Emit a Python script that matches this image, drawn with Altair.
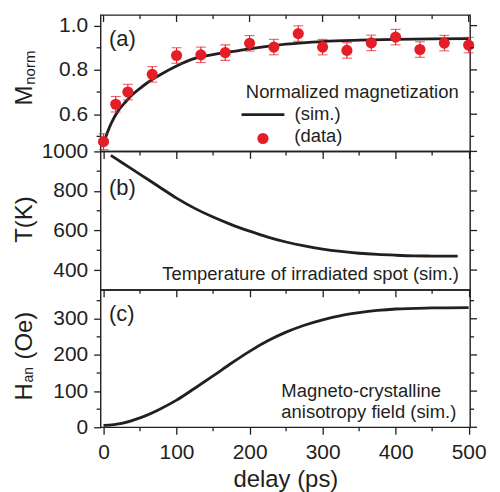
import altair as alt
import pandas as pd

# ---------------- data ----------------
# (a) measured normalized magnetization
delay_pts = [0, 16.7, 33.3, 66.7, 100, 133.3, 166.7, 200, 233.3, 266.7,
             300, 333.3, 366.7, 400, 433.3, 466.7, 500]
m_pts = [0.476, 0.645, 0.700, 0.780, 0.865, 0.868, 0.878, 0.920, 0.903, 0.964,
         0.903, 0.888, 0.922, 0.948, 0.892, 0.921, 0.912]
m_err = [0.036, 0.035, 0.035, 0.035, 0.035, 0.035, 0.035, 0.035, 0.035, 0.035,
         0.035, 0.035, 0.035, 0.035, 0.035, 0.035, 0.035]

# (a) simulated normalized magnetization
m_sim_delay = [0, 10, 20, 30, 40, 50, 60, 80, 100, 125, 150, 175, 200, 250,
               300, 350, 400, 450, 500]
m_sim = [0.47, 0.555, 0.615, 0.655, 0.69, 0.717, 0.742, 0.783, 0.818, 0.852,
         0.869, 0.882, 0.895, 0.916, 0.928, 0.934, 0.938, 0.940, 0.941]

# (b) simulated temperature of irradiated spot
t_sim_delay = [10, 25, 50, 75, 100, 125, 150, 175, 200, 225, 250, 275, 300,
               325, 350, 375, 400, 425, 450, 485]
t_sim = [980, 944, 884, 824, 764, 712, 668, 630, 597, 567, 542, 522, 506,
         494, 485, 479, 475, 472, 471, 470]

# (c) simulated magneto-crystalline anisotropy field
h_sim_delay = [0, 25, 50, 75, 100, 125, 150, 175, 200, 225, 250, 275, 300,
               325, 350, 375, 400, 450, 500]
h_sim = [5, 11, 26, 48, 75, 108, 142, 177, 210, 239, 263, 282, 297, 309,
         317, 323, 327, 330, 331]

# tick values
x_major = [0, 100, 200, 300, 400, 500]
x_minor = [50, 150, 250, 350, 450]
m_major = [0.6, 0.8, 1.0]
m_minor = [0.5, 0.7, 0.9]
t_major = [400, 600, 800, 1000]
t_minor = [500, 700, 900]
h_major = [0, 100, 200, 300]
h_minor = [50, 150, 250, 350]

# ---------------- style ----------------
INK = "#231f20"
RED = "#e41e26"
FONT = "Liberation Sans"
W = 371
HA, HB, HC = 137, 139, 138
XS = alt.Scale(domain=[-4, 502], nice=False, zero=False)
YA = alt.Scale(domain=[0.432, 1.048], nice=False, zero=False)
YB = alt.Scale(domain=[300, 1000], nice=False, zero=False)
YC = alt.Scale(domain=[0, 380], nice=False, zero=False)
TW = 1.3
LFS = 21


def xax(show):
    kw = dict(values=x_major, tickSize=7, tickWidth=TW, tickColor=INK,
              domain=False, grid=False, labelFlush=False)
    if show:
        return alt.Axis(labels=True, title="delay (ps)", labelFontSize=LFS,
                        labelPadding=7, titleFontSize=24, titlePadding=5,
                        titleFontWeight="normal", labelColor=INK,
                        titleColor=INK, format="d", labelFont=FONT,
                        titleFont=FONT, **kw)
    return alt.Axis(labels=False, title=None, **kw)


def yax(vals, fmt):
    return alt.Axis(values=vals, format=fmt, tickSize=7, tickWidth=TW,
                    tickColor=INK, domain=False, grid=False, title=None,
                    labelFontSize=LFS, labelPadding=6, labelColor=INK,
                    labelOverlap=False, labelFont=FONT)


def rules(xa, ya, ys, H, y_major, y_minor, top_ticks=False):
    out = []
    ymin = pd.DataFrame({"v": y_minor})
    ymaj = pd.DataFrame({"v": y_major})
    xmin = pd.DataFrame({"v": x_minor})
    xmaj = pd.DataFrame({"v": x_major})
    base = dict(color=INK, strokeWidth=TW)
    yenc = alt.Y("v:Q", scale=ys, axis=ya)
    xenc = alt.X("v:Q", scale=XS, axis=xa)
    out.append(alt.Chart(ymin).mark_rule(**base).encode(
        y=yenc, x=alt.value(-4), x2=alt.value(0)))
    out.append(alt.Chart(ymaj).mark_rule(**base).encode(
        y=yenc, x=alt.value(W), x2=alt.value(W + 7)))
    out.append(alt.Chart(ymin).mark_rule(**base).encode(
        y=yenc, x=alt.value(W), x2=alt.value(W + 4)))
    out.append(alt.Chart(xmin).mark_rule(**base).encode(
        x=xenc, y=alt.value(H), y2=alt.value(H + 4)))
    if top_ticks:
        out.append(alt.Chart(xmaj).mark_rule(**base).encode(
            x=xenc, y=alt.value(0), y2=alt.value(7)))
        out.append(alt.Chart(xmin).mark_rule(**base).encode(
            x=xenc, y=alt.value(0), y2=alt.value(4)))
    return out


ONE = pd.DataFrame({"a": [0]})


def txt(s, x, y, size=18.5, align="left", angle=0):
    kw = dict(text=s, fontSize=size, align=align, baseline="alphabetic",
              color=INK, font=FONT)
    if angle:
        kw["angle"] = angle
    return alt.Chart(ONE).mark_text(**kw).encode(x=alt.value(x), y=alt.value(y))


# ---------------- panel (a) ----------------
XA_a = xax(False)
YA_a = yax(m_major, ".1f")
dfm = pd.DataFrame({"delay": m_sim_delay, "m": m_sim})
dfp = pd.DataFrame({"delay": delay_pts, "m": m_pts, "err": m_err})

line_a = alt.Chart(dfm).mark_line(color=INK, strokeWidth=2.8,
                                  interpolate="monotone").encode(
    x=alt.X("delay:Q", scale=XS, axis=XA_a),
    y=alt.Y("m:Q", scale=YA, axis=YA_a))

pbase = alt.Chart(dfp).transform_calculate(
    lo="datum.m - datum.err", hi="datum.m + datum.err")
err_a = pbase.mark_rule(color=RED, strokeWidth=1.1).encode(
    x=alt.X("delay:Q", scale=XS, axis=XA_a),
    y=alt.Y("lo:Q", scale=YA, axis=YA_a), y2="hi:Q")
cap_lo = pbase.mark_tick(color=RED, orient="horizontal", size=10,
                         thickness=1.1).encode(
    x=alt.X("delay:Q", scale=XS, axis=XA_a),
    y=alt.Y("lo:Q", scale=YA, axis=YA_a))
cap_hi = pbase.mark_tick(color=RED, orient="horizontal", size=10,
                         thickness=1.1).encode(
    x=alt.X("delay:Q", scale=XS, axis=XA_a),
    y=alt.Y("hi:Q", scale=YA, axis=YA_a))
pts_a = alt.Chart(dfp).mark_point(filled=True, color=RED, size=125,
                                  opacity=1).encode(
    x=alt.X("delay:Q", scale=XS, axis=XA_a),
    y=alt.Y("m:Q", scale=YA, axis=YA_a))

leg_line = alt.Chart(ONE).mark_rule(color=INK, strokeWidth=2.8).encode(
    x=alt.value(141.5), x2=alt.value(184.5), y=alt.value(100))
leg_dot = alt.Chart(ONE).mark_point(filled=True, color=RED, size=125,
                                    opacity=1).encode(
    x=alt.value(163), y=alt.value(124))

panel_a = alt.layer(
    line_a, err_a, cap_lo, cap_hi, pts_a,
    txt("(a)", 8.5, 31.5, size=22),
    txt("Normalized magnetization", 359.5, 83.7, align="right"),
    leg_line, txt("(sim.)", 194.8, 105.5),
    leg_dot, txt("(data)", 194.5, 128),
    txt("M", -69.2, 81, size=24, align="center", angle=270),
    txt("norm", -65.5, 70, size=15, align="left", angle=270),
    *rules(XA_a, YA_a, YA, HA, m_major, m_minor, top_ticks=True)
).properties(width=W, height=HA)

# ---------------- panel (b) ----------------
XA_b = xax(False)
YA_b = yax(t_major, "d")
dft = pd.DataFrame({"delay": t_sim_delay, "t": t_sim})
line_b = alt.Chart(dft).mark_line(color=INK, strokeWidth=2.8,
                                  interpolate="monotone").encode(
    x=alt.X("delay:Q", scale=XS, axis=XA_b),
    y=alt.Y("t:Q", scale=YB, axis=YA_b))

panel_b = alt.layer(
    line_b,
    txt("(b)", 8.5, 44, size=22),
    txt("Temperature of irradiated spot (sim.)", 359.8, 129.3, align="right"),
    txt("T(K)", -69.2, 68.5, size=24, align="center", angle=270),
    *rules(XA_b, YA_b, YB, HB, t_major, t_minor)
).properties(width=W, height=HB)

# ---------------- panel (c) ----------------
XA_c = xax(True)
YA_c = yax(h_major, "d")
dfh = pd.DataFrame({"delay": h_sim_delay, "h": h_sim})
line_c = alt.Chart(dfh).mark_line(color=INK, strokeWidth=2.8,
                                  interpolate="monotone").encode(
    x=alt.X("delay:Q", scale=XS, axis=XA_c),
    y=alt.Y("h:Q", scale=YC, axis=YA_c))

panel_c = alt.layer(
    line_c,
    txt("(c)", 8.5, 31, size=22),
    txt("Magneto-crystalline", 181.5, 107.3),
    txt("anisotropy field (sim.)", 181.5, 129),
    txt("H", -69.2, 111, size=24, align="left", angle=270),
    txt("an", -67.5, 93, size=14, align="left", angle=270),
    txt("(Oe)", -69.2, 70, size=24, align="left", angle=270),
    *rules(XA_c, YA_c, YC, HC, h_major, h_minor)
).properties(width=W, height=HC)

chart = alt.vconcat(panel_a, panel_b, panel_c, spacing=0, bounds="flush").properties(
    padding={"left": 4, "top": 4, "right": 5, "bottom": 2}
).configure(font=FONT).configure_view(stroke=INK, strokeWidth=1.4)

chart.save("out.html", embed_options={"renderer": "svg", "actions": False})
